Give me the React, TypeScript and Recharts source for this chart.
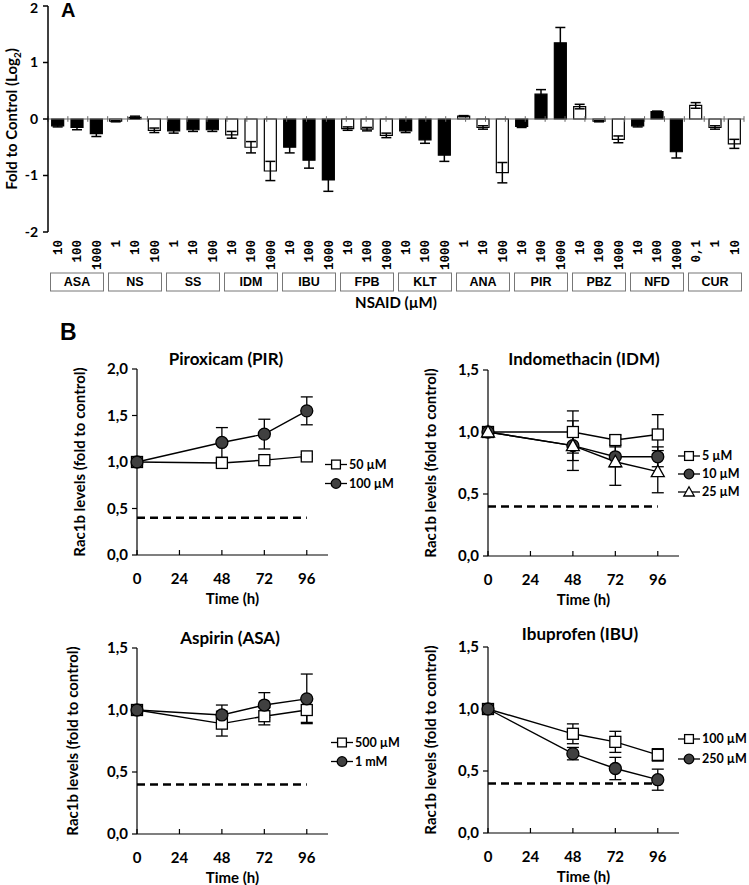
import React from "react";
import {
  BarChart,
  Bar,
  Cell,
  XAxis,
  YAxis,
  ReferenceLine,
  ErrorBar,
  LineChart,
  Line,
} from "recharts";

// ---- panel A: Rac1b fold change (log2) per NSAID and dose ----
const GROUPS = ["ASA", "NS", "SS", "IDM", "IBU", "FPB", "KLT", "ANA", "PIR", "PBZ", "NFD", "CUR"];
const DOSES = [
  ["10", "100", "1000"],
  ["1", "10", "100"],
  ["1", "10", "100"],
  ["10", "100", "1000"],
  ["10", "100", "1000"],
  ["10", "100", "1000"],
  ["10", "100", "1000"],
  ["1", "10", "100"],
  ["10", "100", "1000"],
  ["10", "100", "1000"],
  ["10", "100", "1000"],
  ["0,1", "1", "10"],
];
const FOLD_LOG2 = [
  -0.12, -0.15, -0.26,
  -0.04, 0.03, -0.2,
  -0.21, -0.19, -0.19,
  -0.28, -0.5, -0.92,
  -0.5, -0.73, -1.08,
  -0.17, -0.18, -0.29,
  -0.21, -0.37, -0.64,
  0.05, -0.15, -0.95,
  -0.13, 0.44, 1.35,
  0.22, -0.04, -0.36,
  -0.12, 0.13, -0.58,
  0.24, -0.15, -0.44,
];
const FOLD_ERR = [
  0.02, 0.04, 0.05,
  0.01, 0.02, 0.04,
  0.04, 0.03, 0.03,
  0.06, 0.1, 0.17,
  0.1, 0.14, 0.2,
  0.03, 0.03, 0.04,
  0.03, 0.06, 0.11,
  0.01, 0.03, 0.18,
  0.02, 0.08, 0.27,
  0.04, 0.01, 0.06,
  0.02, 0.01, 0.11,
  0.05, 0.03, 0.08,
];
const LOG2_TICKS = [-2, -1, 0, 1, 2];

// ---- panel B: time courses ----
const HOURS = [0, 48, 72, 96];
const HOUR_TICKS = [0, 24, 48, 72, 96];
const THRESHOLD = 0.4;

const PIR_50 = [1.0, 0.99, 1.02, 1.06];
const PIR_50_ERR = [0, 0.02, 0.02, 0.02];
const PIR_100 = [1.0, 1.21, 1.3, 1.55];
const PIR_100_ERR = [0, 0.16, 0.16, 0.15];

const IDM_5 = [1.0, 1.0, 0.935, 0.98];
const IDM_5_ERR = [0, 0.17, 0.04, 0.16];
const IDM_10 = [1.0, 0.89, 0.8, 0.8];
const IDM_10_ERR = [0, 0.12, 0.08, 0.08];
const IDM_25 = [1.0, 0.89, 0.76, 0.68];
const IDM_25_ERR = [0, 0.2, 0.19, 0.17];

const ASA_500 = [1.0, 0.89, 0.95, 1.0];
const ASA_500_ERR = [0, 0.1, 0.07, 0.1];
const ASA_1M = [1.0, 0.96, 1.04, 1.09];
const ASA_1M_ERR = [0, 0.08, 0.1, 0.2];

const IBU_100 = [1.0, 0.8, 0.735, 0.63];
const IBU_100_ERR = [0, 0.08, 0.085, 0.05];
const IBU_250 = [1.0, 0.64, 0.52, 0.43];
const IBU_250_ERR = [0, 0.05, 0.09, 0.085];

const FONT = "Lato, 'Liberation Sans', sans-serif";
const A_PLOT_W = 749 - 48 - 5;
const BAND = A_PLOT_W / 36;

const barData = GROUPS.flatMap((g, gi) =>
  DOSES[gi].map((d, di) => {
    const i = gi * 3 + di;
    return { key: `${g}-${d}`, group: g, dose: d, pos: di, fold: FOLD_LOG2[i], err: FOLD_ERR[i], filled: gi % 2 === 0 };
  })
);
const boundaries = barData.map((_, i) => i).concat(barData.length);

function DoseTick(props: any) {
  const { x, y, payload } = props;
  const row = barData.find((r) => r.key === payload.value);
  if (!row) return null;
  const boxW = BAND * 3 - 5;
  return (
    <g>
      <text
        transform={`translate(${x},${y}) rotate(-90)`}
        textAnchor="end"
        dy="0.35em"
        fontFamily="'Liberation Mono', monospace"
        fontWeight={700}
        fontSize={12.5}
        fill="#000"
      >
        {row.dose}
      </text>
      {row.pos === 1 && (
        <g>
          <rect x={x - boxW / 2} y={y + 33} width={boxW} height={18} fill="#fff" stroke="#777" strokeWidth={1} />
          <text x={x} y={y + 42} textAnchor="middle" dy="0.35em" fontFamily="'Liberation Sans', Arial, sans-serif" fontWeight={700} fontSize={12.5} fill="#000">
            {row.group}
          </text>
        </g>
      )}
    </g>
  );
}

function FoldLabel(props: any) {
  const vb = props.viewBox || { x: 0, y: 0, width: 0, height: 0 };
  const cx = vb.x + 12;
  const cy = vb.y + vb.height / 2;
  return (
    <text transform={`translate(${cx},${cy}) rotate(-90)`} textAnchor="middle" dy="0.35em" fontFamily={FONT} fontWeight={700} fontSize={15} fill="#000">
      Fold to Control (Log
      <tspan fontSize={10} dy={4}>2</tspan>
      <tspan dy={-4}>)</tspan>
    </text>
  );
}

function PanelA() {
  return (
    <BarChart width={749} height={310} data={barData} margin={{ top: 6, right: 5, left: 0, bottom: 2 }} barCategoryGap="19%">
      <XAxis
        dataKey="key"
        height={76}
        interval={0}
        axisLine={false}
        tickLine={false}
        tickSize={0}
        tickMargin={8}
        tick={<DoseTick />}
        label={{ value: "NSAID (µM)", position: "insideBottom", offset: 0, fill: "#000", fontSize: 15, fontWeight: 700, fontFamily: FONT }}
      />
      <XAxis xAxisId="pos" type="number" domain={[0, barData.length]} hide />
      <YAxis
        type="number"
        domain={[-2, 2]}
        ticks={LOG2_TICKS}
        width={48}
        tickSize={5}
        tickMargin={5}
        stroke="#000"
        strokeWidth={1.5}
        tick={{ fill: "#000", fontSize: 14, fontWeight: 700, fontFamily: FONT }}
        label={(p: any) => <FoldLabel {...p} />}
      />
      <ReferenceLine y={0} stroke="#666" strokeWidth={1.2} />
      {boundaries.map((b) => (
        <ReferenceLine
          key={b}
          xAxisId="pos"
          segment={[
            { x: b, y: -0.05 },
            { x: b, y: 0.05 },
          ]}
          stroke="#666"
          strokeWidth={1}
        />
      ))}
      <Bar dataKey="fold" isAnimationActive={false} stroke="#000" strokeWidth={1.2}>
        {barData.map((r) => (
          <Cell key={r.key} fill={r.filled ? "#000" : "#fff"} />
        ))}
        <ErrorBar dataKey="err" width={5} stroke="#000" strokeWidth={1.5} />
      </Bar>
    </BarChart>
  );
}

type Shape = "square" | "circle" | "triangle";

function Marker({ shape, cx, cy, s = 1 }: { shape: Shape; cx: number; cy: number; s?: number }) {
  if (shape === "square") return <rect x={cx - 5.5 * s} y={cy - 5.5 * s} width={11 * s} height={11 * s} fill="#fff" stroke="#000" strokeWidth={1.3} />;
  if (shape === "circle") return <circle cx={cx} cy={cy} r={6 * s} fill="#404040" stroke="#000" strokeWidth={1.3} />;
  return (
    <polygon
      points={`${cx},${cy - 6.5 * s} ${cx + 6.5 * s},${cy + 5 * s} ${cx - 6.5 * s},${cy + 5 * s}`}
      fill="#fff"
      stroke="#000"
      strokeWidth={1.3}
    />
  );
}

interface Series {
  name: string;
  values: number[];
  errs: number[];
  shape: Shape;
}

interface PanelProps {
  left: number;
  top: number;
  title: string;
  titleX: number;
  titleY: number;
  yMax: number;
  yTicks: number[];
  labelOffset: number;
  series: Series[];
  legendX: number;
  legendY: number;
  legendGap: number;
}

const comma = (v: number) => v.toFixed(1).replace(".", ",");

function TimePanel(p: PanelProps) {
  const data = HOURS.map((h, i) => {
    const row: Record<string, number> = { h };
    p.series.forEach((s, k) => {
      row[`v${k}`] = s.values[i];
      row[`e${k}`] = s.errs[i];
    });
    return row;
  });
  return (
    <>
      <div
        style={{
          position: "absolute",
          left: p.titleX,
          top: p.titleY,
          transform: "translate(-50%, -50%)",
          whiteSpace: "nowrap",
          fontFamily: FONT,
          fontWeight: 700,
          fontSize: 17,
        }}
      >
        {p.title}
      </div>
      <div style={{ position: "absolute", left: p.left, top: p.top }}>
        <LineChart width={371} height={270} data={data} margin={{ top: 29, right: 43, left: 60, bottom: 0 }}>
          <XAxis
            dataKey="h"
            type="number"
            domain={[0, 108]}
            ticks={HOUR_TICKS}
            height={55}
            tickSize={-5}
            tickMargin={23}
            stroke="#000"
            strokeWidth={1.2}
            tick={{ fill: "#000", fontSize: 15, fontWeight: 700, fontFamily: FONT }}
            label={{ value: "Time (h)", position: "insideBottom", offset: 6, fill: "#000", fontSize: 15, fontWeight: 700, fontFamily: FONT }}
          />
          <YAxis
            type="number"
            domain={[0, p.yMax]}
            ticks={p.yTicks}
            width={77}
            tickSize={5}
            tickMargin={4}
            stroke="#000"
            strokeWidth={1.2}
            tickFormatter={comma}
            tick={{ fill: "#000", fontSize: 15, fontWeight: 700, fontFamily: FONT }}
            label={{
              value: "Rac1b levels (fold to control)",
              angle: -90,
              position: "insideLeft",
              offset: p.labelOffset,
              fill: "#000",
              fontSize: 15,
              fontWeight: 700,
              fontFamily: FONT,
              style: { textAnchor: "middle" },
            }}
          />
          <ReferenceLine
            segment={[
              { x: 0, y: THRESHOLD },
              { x: 96, y: THRESHOLD },
            ]}
            stroke="#000"
            strokeWidth={2.5}
            strokeDasharray="8 5"
          />
          {p.series.map((s, k) => (
            <Line
              key={s.name}
              dataKey={`v${k}`}
              type="linear"
              stroke="#000"
              strokeWidth={1.4}
              isAnimationActive={false}
              activeDot={false}
              dot={(d: any) => <Marker key={`${s.name}-${d.index}`} shape={s.shape} cx={d.cx} cy={d.cy} />}
            >
              <ErrorBar dataKey={`e${k}`} width={6} stroke="#000" strokeWidth={1.3} direction="y" />
            </Line>
          ))}
        </LineChart>
      </div>
      <svg
        style={{ position: "absolute", left: p.legendX, top: p.legendY - p.legendGap / 2, overflow: "visible" }}
        width={749 - p.legendX}
        height={p.legendGap * p.series.length}
      >
        {p.series.map((s, k) => {
          const cy = p.legendGap / 2 + k * p.legendGap;
          return (
            <g key={s.name}>
              <line x1={0} x2={22} y1={cy} y2={cy} stroke="#000" strokeWidth={1.3} />
              <Marker shape={s.shape} cx={11} cy={cy} s={0.8} />
              <text x={24} y={cy} dy="0.35em" fontFamily={FONT} fontWeight={700} fontSize={12.5} fill="#000">
                {s.name}
              </text>
            </g>
          );
        })}
      </svg>
    </>
  );
}

export default function App() {
  return (
    <div style={{ position: "absolute", left: 0, top: 0, width: 749, height: 885, background: "#fff", fontFamily: FONT, overflow: "hidden" }}>
      <PanelA />
      <div style={{ position: "absolute", left: 61, top: -1, fontFamily: "'Liberation Sans', Arial, sans-serif", fontWeight: 700, fontSize: 20 }}>A</div>
      <div style={{ position: "absolute", left: 60, top: 319, fontFamily: "'Liberation Sans', Arial, sans-serif", fontWeight: 700, fontSize: 23 }}>B</div>

      <TimePanel
        left={0}
        top={340}
        title="Piroxicam (PIR)"
        titleX={226}
        titleY={358}
        yMax={2}
        yTicks={[0, 0.5, 1, 1.5, 2]}
        labelOffset={20}
        series={[
          { name: "50 µM", values: PIR_50, errs: PIR_50_ERR, shape: "square" },
          { name: "100 µM", values: PIR_100, errs: PIR_100_ERR, shape: "circle" },
        ]}
        legendX={325}
        legendY={464}
        legendGap={19}
      />
      <TimePanel
        left={351}
        top={341}
        title="Indomethacin (IDM)"
        titleX={584}
        titleY={358}
        yMax={1.5}
        yTicks={[0, 0.5, 1, 1.5]}
        labelOffset={20}
        series={[
          { name: "5 µM", values: IDM_5, errs: IDM_5_ERR, shape: "square" },
          { name: "10 µM", values: IDM_10, errs: IDM_10_ERR, shape: "circle" },
          { name: "25 µM", values: IDM_25, errs: IDM_25_ERR, shape: "triangle" },
        ]}
        legendX={678}
        legendY={456}
        legendGap={18}
      />
      <TimePanel
        left={0}
        top={619}
        title="Aspirin (ASA)"
        titleX={230}
        titleY={637}
        yMax={1.5}
        yTicks={[0, 0.5, 1, 1.5]}
        labelOffset={13}
        series={[
          { name: "500 µM", values: ASA_500, errs: ASA_500_ERR, shape: "square" },
          { name: "1 mM", values: ASA_1M, errs: ASA_1M_ERR, shape: "circle" },
        ]}
        legendX={331}
        legendY={742}
        legendGap={19}
      />
      <TimePanel
        left={351}
        top={618}
        title="Ibuprofen (IBU)"
        titleX={580}
        titleY={633}
        yMax={1.5}
        yTicks={[0, 0.5, 1, 1.5]}
        labelOffset={20}
        series={[
          { name: "100 µM", values: IBU_100, errs: IBU_100_ERR, shape: "square" },
          { name: "250 µM", values: IBU_250, errs: IBU_250_ERR, shape: "circle" },
        ]}
        legendX={678}
        legendY={739}
        legendGap={20}
      />
    </div>
  );
}
